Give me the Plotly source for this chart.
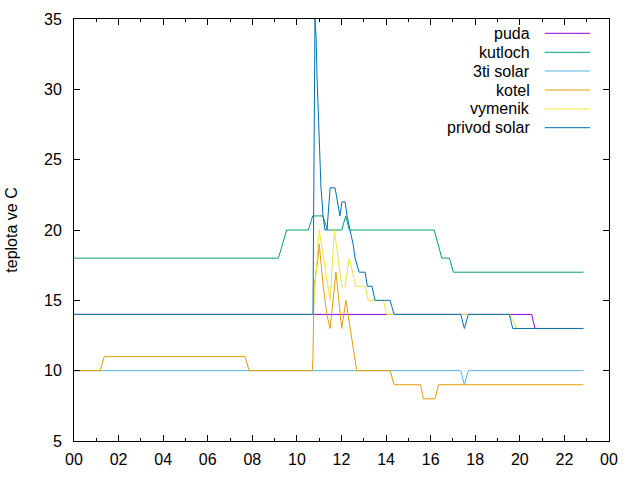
import plotly.graph_objects as go

# ---- data (time in decimal hours, temperature in deg C) ----
series_names = ["puda", "kutloch", "3ti solar", "kotel", "vymenik", "privod solar"]
series_colors = ["#9400d3", "#009e73", "#56b4e9", "#e69f00", "#f0e442", "#0072b2"]

puda_t = [0, 20.53, 20.68, 22.85]
puda_v = [14, 14, 13, 13]

kutloch_t = [0, 9.17, 9.54, 10.51, 10.71, 11.16, 11.38, 12.01, 12.19, 12.35,
             16.16, 16.50, 16.84, 17.02, 22.85]
kutloch_v = [18, 18, 20, 20, 21, 21, 20, 20, 21, 20,
             20, 18, 18, 17, 17]

solar3_t = [0, 17.35, 17.51, 17.69, 22.85]
solar3_v = [10, 10, 9, 10, 10]

kotel_t = [0, 1.17, 1.36, 7.67, 7.86, 10.69, 10.72, 10.77, 10.86, 10.95, 11.00,
           11.18, 11.34, 11.49, 11.75, 12.01, 12.20, 12.29, 12.68,
           14.18, 14.36, 15.55, 15.67, 16.20, 16.35, 22.85]
kotel_v = [10, 10, 11, 11, 10, 10, 11, 16, 17, 18, 19,
           16, 14, 13, 17, 13, 15, 14, 10,
           10, 9, 9, 8, 8, 9, 9]

vymenik_t = [0, 10.72, 10.81, 11.00, 11.49, 11.68, 12.01, 12.16, 12.35, 12.64,
             13.06, 13.20, 13.88, 14.03, 19.56, 19.86, 22.85]
vymenik_v = [14, 14, 16, 20, 15, 20, 16, 16, 18, 16,
             16, 15, 15, 14, 14, 13, 13]

privod_t = [0, 10.72, 10.81, 10.86, 10.90, 10.95, 10.99, 11.04, 11.08, 11.13, 11.17,
            11.26, 11.35, 11.49, 11.71, 11.93, 12.02, 12.16, 12.25, 12.38, 12.52,
            12.61, 12.79, 13.06, 13.16, 13.37, 13.50, 14.18, 14.36, 17.35, 17.51,
            17.69, 19.53, 19.68, 22.85]
privod_v = [14, 14, 35, 33.7, 31, 28.5, 26, 24.4, 23, 22, 21,
            20, 20, 23, 23, 21, 22, 22, 21, 20, 19,
            18, 17, 17, 16, 16, 15, 15, 14, 14, 13,
            14, 14, 13, 13]

x_tickvals = list(range(0, 25, 2))
x_ticktext = ["00", "02", "04", "06", "08", "10", "12", "14", "16", "18", "20", "22", "00"]
y_tickvals = [5, 10, 15, 20, 25, 30, 35]
y_title = "teplota ve C"

all_t = [puda_t, kutloch_t, solar3_t, kotel_t, vymenik_t, privod_t]
all_v = [puda_v, kutloch_v, solar3_v, kotel_v, vymenik_v, privod_v]

FONT = "Liberation Sans, Arial, sans-serif"

fig = go.Figure()
for name, color, t, v in zip(series_names, series_colors, all_t, all_v):
    fig.add_trace(go.Scatter(x=t, y=v, mode="lines", name=name,
                             line=dict(color=color, width=1),
                             showlegend=False))

# gnuplot-style key: right-aligned text followed by a line sample
row_px = [33.3, 52.3, 71.0, 90.0, 109.0, 127.7]
plot_top, plot_bot = 19.0, 441.0
shapes = []
annotations = []
for name, color, ypx in zip(series_names, series_colors, row_px):
    yp = (plot_bot - ypx) / (plot_bot - plot_top)
    annotations.append(dict(xref="paper", yref="paper", x=0.8555, y=yp,
                            xanchor="right", yanchor="middle", text=name,
                            showarrow=False, font=dict(family=FONT, size=16, color="black")))
    shapes.append(dict(type="line", xref="paper", yref="paper",
                       x0=0.880, x1=0.9645, y0=yp, y1=yp,
                       line=dict(color=color, width=1)))

axis_common = dict(showgrid=False, zeroline=False, showline=True, linecolor="black",
                   linewidth=1, mirror="ticks", ticks="inside", tickcolor="black",
                   tickwidth=1, tickfont=dict(family=FONT, size=16, color="black"))

fig.update_layout(
    width=640, height=480,
    margin=dict(l=74, r=31, t=19, b=39),
    paper_bgcolor="white", plot_bgcolor="white",
    font=dict(family=FONT, size=16, color="black"),
    xaxis=dict(range=[0, 24], tickvals=x_tickvals, ticktext=x_ticktext, ticklen=6,
               ticklabelstandoff=4,
               minor=dict(dtick=1, tick0=0, ticks="inside", ticklen=3, tickcolor="black"),
               **axis_common),
    yaxis=dict(range=[5, 35], tickvals=y_tickvals, ticklen=6, ticklabelstandoff=8,
               title=dict(text=y_title, font=dict(family=FONT, size=16), standoff=22),
               **axis_common),
    shapes=shapes, annotations=annotations,
)

fig.write_html("out.html")
